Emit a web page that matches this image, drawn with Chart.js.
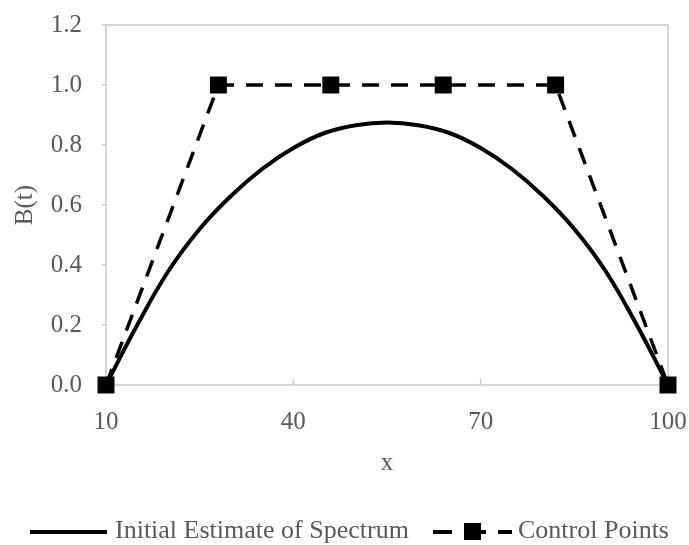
<!DOCTYPE html>
<html>
<head>
<meta charset="utf-8">
<script src="https://cdn.jsdelivr.net/npm/chart.js@4.4.0/dist/chart.umd.min.js"></script>
<style>
  html, body { margin: 0; padding: 0; background: #fff; }
  #wrap { width: 689px; height: 545px; position: relative; }
</style>
</head>
<body>
<div id="wrap"><canvas id="chart"></canvas></div>
<script>
// curve values
const curveX = [10, 15, 20, 25, 30, 35, 40, 45, 50, 55, 60, 65, 70, 75, 80, 85, 90, 95, 100];
const curveY = [0, 0.20, 0.38, 0.52, 0.63, 0.72, 0.79, 0.84, 0.866, 0.875, 0.866, 0.84, 0.79, 0.72, 0.63, 0.52, 0.38, 0.20, 0];

// control points
const ctrlX = [10, 28, 46, 64, 82, 100];
const ctrlY = [0, 1, 1, 1, 1, 0];

const xTicks = [10, 40, 70, 100];
const yTicks = [0, 0.2, 0.4, 0.6, 0.8, 1.0, 1.2];

const seriesNames = ['Initial Estimate of Spectrum', 'Control Points'];

const FONT = "'Liberation Serif', 'Times New Roman', serif";
const FSIZE = 25;
const GREY = '#595959';
const AXIS = '#c8c8c8';

const toPoints = (xs, ys) => xs.map((x, i) => ({ x: x, y: ys[i] }));

// box border, inner x ticks and the bottom legend
const decor = {
  id: 'decor',
  beforeDatasetsDraw(chart) {
    const ctx = chart.ctx, a = chart.chartArea, xs = chart.scales.x;
    ctx.save();
    ctx.strokeStyle = AXIS;
    ctx.lineWidth = 1.5;
    ctx.strokeRect(a.left, a.top, a.right - a.left, a.bottom - a.top);
    xTicks.forEach(v => {
      const px = xs.getPixelForValue(v);
      ctx.beginPath();
      ctx.moveTo(px, a.bottom);
      ctx.lineTo(px, a.bottom - 6);
      ctx.stroke();
    });
    ctx.restore();
  },
  afterDraw(chart) {
    const ctx = chart.ctx;
    const y = 532;
    ctx.save();
    ctx.font = '26px ' + FONT;
    ctx.fillStyle = GREY;
    ctx.textBaseline = 'middle';

    // solid line
    ctx.strokeStyle = '#000';
    ctx.lineWidth = 4;
    ctx.beginPath();
    ctx.moveTo(30, y);
    ctx.lineTo(107, y);
    ctx.stroke();
    ctx.fillText(seriesNames[0], 115, y - 1);

    // dashed with square marker
    ctx.beginPath();
    ctx.moveTo(433, y); ctx.lineTo(452, y);
    ctx.moveTo(480, y); ctx.lineTo(486, y);
    ctx.moveTo(498, y); ctx.lineTo(512, y);
    ctx.stroke();
    ctx.fillStyle = '#000';
    ctx.fillRect(464, y - 9, 17, 17);
    ctx.fillStyle = GREY;
    ctx.fillText(seriesNames[1], 518, y - 1);
    ctx.restore();
  }
};

new Chart(document.getElementById('chart'), {
  type: 'line',
  data: {
    datasets: [{
      label: seriesNames[0],
      data: toPoints(curveX, curveY),
      borderColor: '#000',
      borderWidth: 4,
      pointRadius: 0,
      tension: 0.4,
      fill: false
    }, {
      label: seriesNames[1],
      data: toPoints(ctrlX, ctrlY),
      borderColor: '#000',
      backgroundColor: '#000',
      borderWidth: 3.5,
      borderDash: [17, 12],
      pointStyle: 'rect',
      pointRadius: 12,
      pointBorderWidth: 0,
      tension: 0,
      clip: false,
      fill: false
    }]
  },
  options: {
    responsive: true,
    maintainAspectRatio: false,
    animation: false,
    layout: { padding: { top: 25, right: 21, bottom: 60, left: 0 } },
    plugins: {
      legend: { display: false },
      tooltip: { enabled: false }
    },
    scales: {
      x: {
        type: 'linear',
        min: 10,
        max: 100,
        afterBuildTicks: s => { s.ticks = xTicks.map(v => ({ value: v })); },
        afterFit: s => { s.height = 100; s.paddingLeft = 0; s.paddingRight = 0; },
        border: { display: false },
        grid: { display: false, drawTicks: false },
        ticks: { color: GREY, font: { family: FONT, size: FSIZE }, padding: 22, maxRotation: 0 },
        title: { display: true, text: 'x', color: GREY, font: { family: FONT, size: FSIZE }, padding: { top: 0, bottom: 7 } }
      },
      y: {
        min: 0,
        max: 1.2,
        afterBuildTicks: s => { s.ticks = yTicks.map(v => ({ value: v })); },
        afterFit: s => { s.width = 106; s.paddingTop = 0; s.paddingBottom = 0; },
        border: { display: false },
        grid: { drawOnChartArea: false, drawTicks: true, tickLength: 4, color: AXIS, lineWidth: 1.5 },
        ticks: { color: GREY, font: { family: FONT, size: FSIZE }, padding: 20, callback: v => v.toFixed(1) },
        title: { display: true, text: 'B(t)', color: GREY, font: { family: FONT, size: FSIZE }, padding: { top: 10, bottom: 0 } }
      }
    }
  },
  plugins: [decor]
});
</script>
</body>
</html>
